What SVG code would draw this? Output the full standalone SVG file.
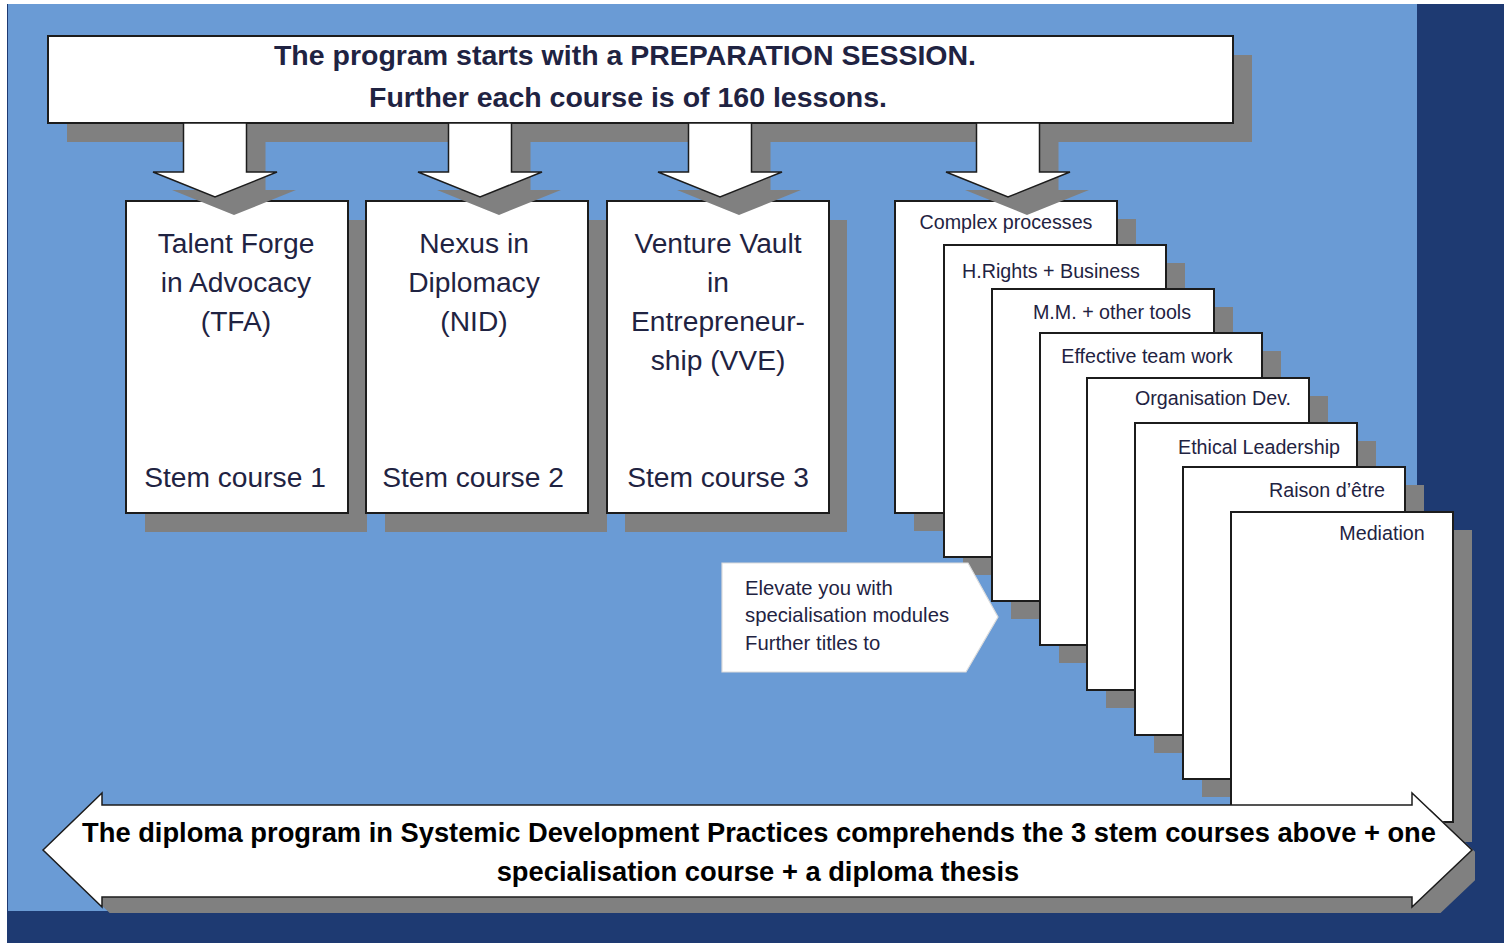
<svg xmlns="http://www.w3.org/2000/svg" width="1512" height="943" viewBox="0 0 1512 943">
<style>
.box{fill:#ffffff;stroke:#1c1c1c;stroke-width:2}
.shd{fill:#808080}
.arr{fill:#ffffff;stroke:#1c1c1c;stroke-width:1.5;stroke-linejoin:miter}
.t28{font-family:"Liberation Sans",Arial,Helvetica,sans-serif;font-size:28.2px;fill:#1f2342;text-anchor:middle}
.t19{font-family:"Liberation Sans",Arial,Helvetica,sans-serif;font-size:19.7px;fill:#1f2342;text-anchor:middle}
.tc{font-family:"Liberation Sans",Arial,Helvetica,sans-serif;font-size:20.3px;fill:#1f2342}
.tb{font-family:"Liberation Sans",Arial,Helvetica,sans-serif;font-size:28.5px;font-weight:bold;fill:#1f2342;text-anchor:middle}
.tbb{font-family:"Liberation Sans",Arial,Helvetica,sans-serif;font-size:27.3px;font-weight:bold;fill:#000000;text-anchor:middle}
</style>
<defs>
<clipPath id="clip"><rect x="0" y="0" width="1475" height="913"/></clipPath>
<polygon id="downArrow" points="-31.5,123 31.5,123 31.5,172 62,172 0,197 -62,172 -31.5,172"/>
</defs>
<rect x="0" y="0" width="1512" height="943" fill="#ffffff"/>
<rect x="7" y="4" width="1497" height="939" fill="#1e3a72"/>
<rect x="8" y="4" width="1409" height="907" fill="#6a9bd5"/>
<g clip-path="url(#clip)">
<g id="node-intro">
<rect class="shd" x="67" y="55" width="1185" height="87"/>
<rect class="box" x="48" y="36" width="1185" height="87"/>
<text class="tb" x="625" y="65">The program starts with a PREPARATION SESSION.</text>
<text class="tb" x="628" y="107">Further each course is of 160 lessons.</text>
</g>
<g id="node-stem1">
<rect class="shd" x="145" y="220" width="222" height="312"/>
<rect class="box" x="126" y="201" width="222" height="312"/>
<text class="t28" x="236" y="253">Talent Forge</text>
<text class="t28" x="236" y="292">in Advocacy</text>
<text class="t28" x="236" y="331">(TFA)</text>
<text class="t28" x="235" y="487">Stem course 1</text>
</g>
<g id="node-stem2">
<rect class="shd" x="385" y="220" width="222" height="312"/>
<rect class="box" x="366" y="201" width="222" height="312"/>
<text class="t28" x="474" y="253">Nexus in</text>
<text class="t28" x="474" y="292">Diplomacy</text>
<text class="t28" x="474" y="331">(NID)</text>
<text class="t28" x="473" y="487">Stem course 2</text>
</g>
<g id="node-stem3">
<rect class="shd" x="625" y="220" width="222" height="312"/>
<rect class="box" x="607" y="201" width="222" height="312"/>
<text class="t28" x="718" y="253">Venture Vault</text>
<text class="t28" x="718" y="292">in</text>
<text class="t28" x="718" y="331">Entrepreneur-</text>
<text class="t28" x="718" y="370">ship (VVE)</text>
<text class="t28" x="718" y="487">Stem course 3</text>
</g>
<g id="node-spec1">
<rect class="shd" x="914" y="219" width="222" height="312"/>
<rect class="box" x="895" y="201" width="222" height="312"/>
<text class="t19" x="1006" y="229">Complex processes</text>
</g>
<g id="node-spec2">
<rect class="shd" x="963" y="263" width="222" height="312"/>
<rect class="box" x="944" y="245" width="222" height="312"/>
<text class="t19" x="1051" y="278">H.Rights + Business</text>
</g>
<g id="node-spec3">
<rect class="shd" x="1011" y="307" width="222" height="312"/>
<rect class="box" x="992" y="289" width="222" height="312"/>
<text class="t19" x="1112" y="319">M.M. + other tools</text>
</g>
<g id="node-spec4">
<rect class="shd" x="1059" y="351" width="222" height="312"/>
<rect class="box" x="1040" y="333" width="222" height="312"/>
<text class="t19" x="1147" y="363">Effective team work</text>
</g>
<g id="node-spec5">
<rect class="shd" x="1106" y="396" width="222" height="312"/>
<rect class="box" x="1087" y="378" width="222" height="312"/>
<text class="t19" x="1213" y="405">Organisation Dev.</text>
</g>
<g id="node-spec6">
<rect class="shd" x="1154" y="441" width="222" height="312"/>
<rect class="box" x="1135" y="423" width="222" height="312"/>
<text class="t19" x="1259" y="454">Ethical Leadership</text>
</g>
<g id="node-spec7">
<rect class="shd" x="1202" y="485" width="222" height="312"/>
<rect class="box" x="1183" y="467" width="222" height="312"/>
<text class="t19" x="1327" y="497">Raison d’être</text>
</g>
<g id="node-spec8">
<rect class="shd" x="1250" y="530" width="222" height="312"/>
<rect class="box" x="1231" y="512" width="222" height="310"/>
<text class="t19" x="1382" y="540">Mediation</text>
</g>
<g id="connectors">
<use href="#downArrow" class="shd" x="234" y="18"/>
<use href="#downArrow" class="arr" x="215" y="0"/>
<use href="#downArrow" class="shd" x="499" y="18"/>
<use href="#downArrow" class="arr" x="480" y="0"/>
<use href="#downArrow" class="shd" x="739" y="18"/>
<use href="#downArrow" class="arr" x="720" y="0"/>
<use href="#downArrow" class="shd" x="1027" y="18"/>
<use href="#downArrow" class="arr" x="1008" y="0"/>
</g>
<g id="node-callout">
<polygon points="722,563 968,563 998,617 966,672 722,672" fill="#ffffff" stroke="#dcdcdc" stroke-width="1.2"/>
<text class="tc" x="745" y="595">Elevate you with</text>
<text class="tc" x="745" y="622">specialisation modules</text>
<text class="tc" x="745" y="650">Further titles to</text>
</g>
<g id="node-diploma">
<polygon class="shd" transform="translate(18,16)" points="43,850 102,793 102,805 1412,805 1412,793 1472,850 1412,907 1412,897 102,897 102,907"/>
<polygon class="arr" points="43,850 102,793 102,805 1412,805 1412,793 1472,850 1412,907 1412,897 102,897 102,907"/>
<text class="tbb" x="759" y="842">The diploma program in Systemic Development Practices comprehends the 3 stem courses above + one</text>
<text class="tbb" x="758" y="881">specialisation course + a diploma thesis</text>
</g>
</g>
</svg>
